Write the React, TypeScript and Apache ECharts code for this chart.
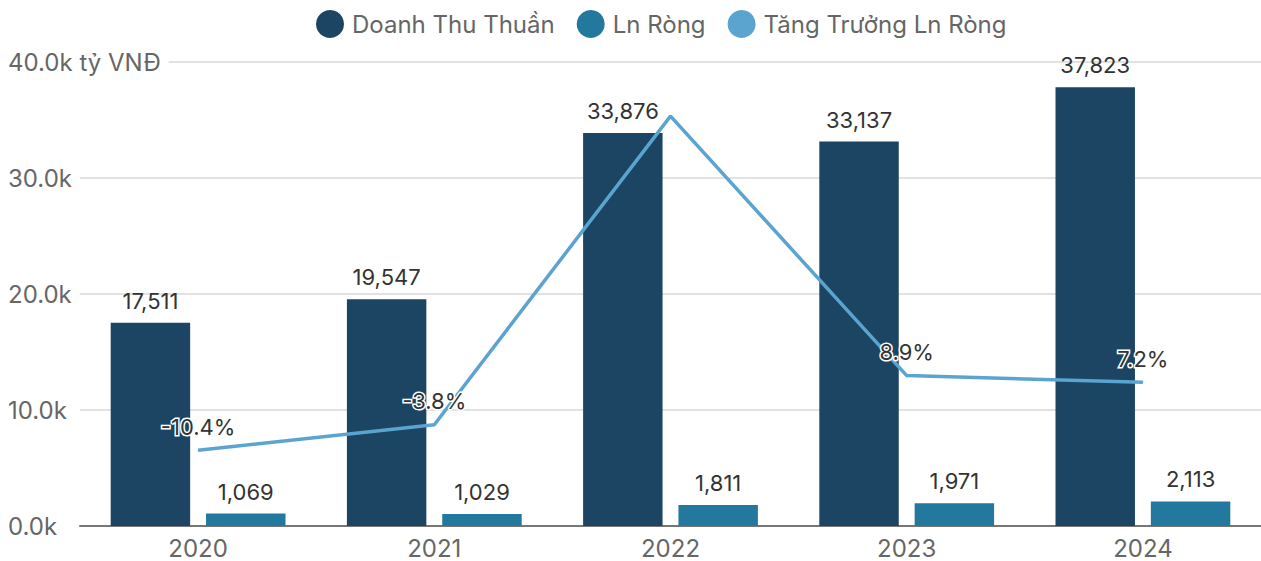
import React, { useEffect, useRef } from "react";
import * as echarts from "echarts";

const years = ["2020", "2021", "2022", "2023", "2024"];
const revenue = [17511, 19547, 33876, 33137, 37823];
const netProfit = [1069, 1029, 1811, 1971, 2113];
const profitGrowth = [-10.4, -3.8, 76.0, 8.9, 7.2];
const growthLabelShown = [true, true, false, true, true];
const yTicks = [0, 10000, 20000, 30000, 40000];

const FONT = "Inter, 'Noto Sans', sans-serif";

export default function App() {
  const ref = useRef<HTMLDivElement>(null);
  useEffect(() => {
    if (!ref.current) return;
    const chart = echarts.init(ref.current, undefined, { renderer: "svg" });
    const topTick = yTicks[yTicks.length - 1];
    chart.setOption({
      animation: false,
      textStyle: { fontFamily: FONT },
      legend: {
        top: 5,
        left: 311,
        icon: "circle",
        itemWidth: 28,
        itemHeight: 28,
        itemGap: 22,
        textStyle: { fontSize: 24, color: "#666", fontFamily: FONT, padding: [0, 0, 0, 3] },
        data: ["Doanh Thu Thuần", "Ln Ròng", "Tăng Trưởng Ln Ròng"],
      },
      grid: { left: 80, right: 0, top: 62, bottom: 35, containLabel: false },
      xAxis: {
        type: "category",
        data: years,
        axisTick: { show: false },
        axisLine: { lineStyle: { color: "#777", width: 2 } },
        axisLabel: { fontSize: 24, color: "#666", margin: 10, fontFamily: FONT },
      },
      yAxis: [
        {
          type: "value",
          min: yTicks[0],
          max: topTick,
          interval: yTicks[1] - yTicks[0],
          axisLine: { show: false },
          axisTick: { show: false },
          splitLine: { lineStyle: { color: "#d9d9d9", width: 1.5 } },
          axisLabel: {
            fontSize: 24,
            color: "#666",
            align: "left",
            margin: 72,
            fontFamily: FONT,
            backgroundColor: "#fff",
            padding: [0, 8, 0, 0],
            formatter: (v: number) =>
              (v / 1000).toFixed(1) + "k" + (v === topTick ? " tỷ VNĐ" : ""),
          },
        },
        {
          type: "value",
          min: -30,
          max: 90,
          interval: 30,
          show: false,
          splitLine: { show: false },
        },
      ],
      series: [
        {
          name: "Doanh Thu Thuần",
          type: "bar",
          data: revenue,
          barCategoryGap: "26%",
          barGap: "20%",
          itemStyle: { color: "#1b4562" },
          label: {
            show: true,
            position: "top",
            distance: 11,
            fontSize: 22,
            color: "#333",
            fontFamily: FONT,
            formatter: (p: any) => p.value.toLocaleString("en-US"),
          },
        },
        {
          name: "Ln Ròng",
          type: "bar",
          data: netProfit,
          barCategoryGap: "26%",
          barGap: "20%",
          itemStyle: { color: "#23789e" },
          label: {
            show: true,
            position: "top",
            distance: 11,
            fontSize: 22,
            color: "#333",
            fontFamily: FONT,
            formatter: (p: any) => p.value.toLocaleString("en-US"),
          },
        },
        {
          name: "Tăng Trưởng Ln Ròng",
          type: "line",
          yAxisIndex: 1,
          z: 5,
          showSymbol: true,
          symbol: "circle",
          symbolSize: 1,
          itemStyle: { color: "#5ba4d0" },
          lineStyle: { color: "#5ba4d0", width: 3.5 },
          data: profitGrowth.map((v, i) => ({
            value: v,
            label: { show: growthLabelShown[i] },
          })),
          label: {
            show: true,
            position: "top",
            distance: 12,
            fontSize: 22,
            color: "#333",
            fontFamily: FONT,
            textBorderColor: "#fff",
            textBorderWidth: 3,
            formatter: (p: any) => p.value.toFixed(1) + "%",
          },
        },
      ],
    });
    return () => chart.dispose();
  }, []);
  return (
    <div
      ref={ref}
      style={{ position: "fixed", left: 0, top: 0, width: 1261, height: 561, background: "#fff" }}
    />
  );
}
